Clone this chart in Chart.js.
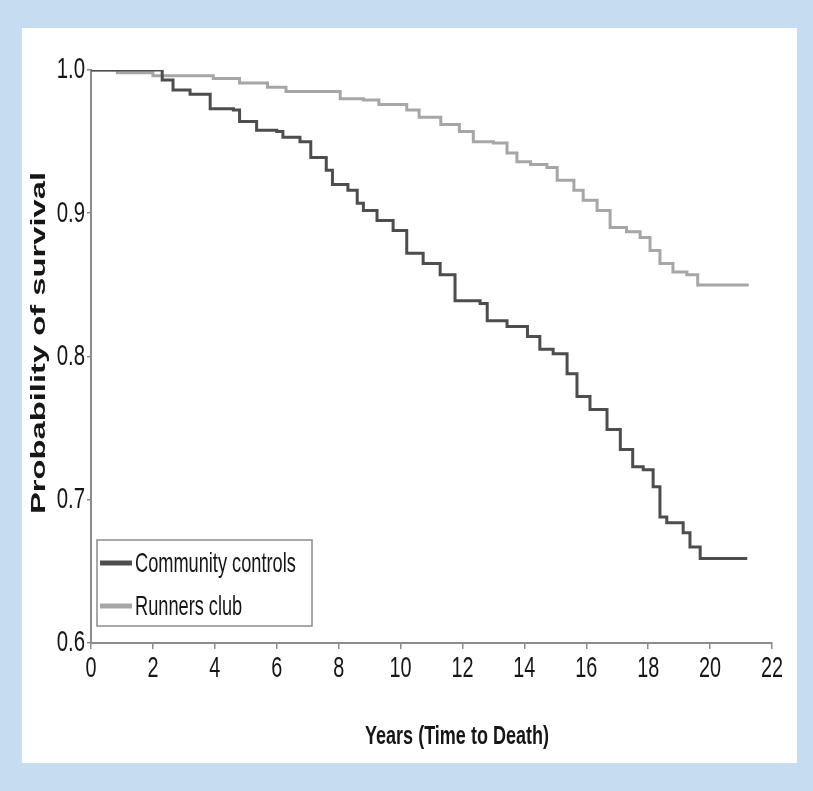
<!DOCTYPE html>
<html>
<head>
<meta charset="utf-8">
<script src="https://cdn.jsdelivr.net/npm/chart.js@4/dist/chart.umd.min.js"></script>
<style>
  body { margin: 0; background: #c6dcf1; width: 813px; height: 791px; overflow: hidden; }
  #panel { position: absolute; left: 22px; top: 28px; width: 775px; height: 735px; background: #fff; }
</style>
</head>
<body>
<div id="panel"><canvas id="myChart" width="775" height="735"></canvas></div>
<script>
// Kaplan-Meier curves
var controlYears = [0, 1.9, 2.3, 2.65, 3.2, 3.85, 4.6, 4.8, 5.35, 6.0, 6.2, 6.75, 7.1, 7.6, 7.8, 8.3, 8.6, 8.8, 9.24, 9.76, 10.2, 10.73, 11.28, 11.76, 12.57, 12.8, 13.44, 14.1, 14.5, 14.93, 15.38, 15.7, 16.12, 16.67, 17.1, 17.5, 17.84, 18.16, 18.38, 18.6, 19.13, 19.35, 19.68, 21.2];
var controlSurvival = [1.0, 1.0, 0.993, 0.986, 0.983, 0.973, 0.972, 0.964, 0.958, 0.957, 0.953, 0.95, 0.939, 0.93, 0.92, 0.916, 0.907, 0.902, 0.895, 0.888, 0.872, 0.865, 0.857, 0.839, 0.837, 0.825, 0.821, 0.814, 0.805, 0.802, 0.788, 0.772, 0.763, 0.749, 0.735, 0.723, 0.721, 0.709, 0.688, 0.684, 0.677, 0.667, 0.659, 0.659];

var runnerYears = [0, 0.85, 2.0, 3.95, 4.8, 5.7, 6.3, 7.8, 8.05, 8.8, 9.3, 10.2, 10.6, 11.3, 11.9, 12.35, 13.0, 13.44, 13.76, 14.2, 14.73, 15.06, 15.6, 15.9, 16.35, 16.77, 17.3, 17.74, 18.06, 18.38, 18.8, 19.25, 19.6, 21.25];
var runnerSurvival = [1.0, 0.998, 0.996, 0.994, 0.991, 0.988, 0.985, 0.985, 0.98, 0.979, 0.976, 0.972, 0.967, 0.962, 0.957, 0.95, 0.949, 0.942, 0.936, 0.934, 0.932, 0.923, 0.916, 0.909, 0.902, 0.89, 0.887, 0.883, 0.874, 0.865, 0.859, 0.857, 0.85, 0.85];

var seriesNames = ["Community controls", "Runners club"];
var xTitle = "Years (Time to Death)";
var yTitle = "Probability of survival";

function toPoints(xs, ys) {
  return xs.map(function (x, i) { return { x: x, y: ys[i] }; });
}

var sans = "'Liberation Sans', Arial, sans-serif";
var textColor = "#161616";

// the original uses a condensed face, so squeeze Liberation Sans sideways
function condensed(ctx, text, x, y, align, sx) {
  ctx.save();
  ctx.translate(x, y);
  ctx.scale(sx, 1);
  ctx.textAlign = align;
  ctx.fillText(text, 0, 0);
  ctx.restore();
}

// tick labels, legend box and axis titles drawn by hand
var extras = {
  id: "extras",
  afterDraw: function (chart) {
    var ctx = chart.ctx;
    var area = chart.chartArea;
    var xs = chart.scales.x, ys = chart.scales.y;
    ctx.save();
    ctx.fillStyle = textColor;
    ctx.textBaseline = "middle";

    // tick labels
    ctx.font = "30px " + sans;
    xs.ticks.forEach(function (t) {
      condensed(ctx, String(t.value), xs.getPixelForValue(t.value), area.bottom + 26, "center", 0.66);
    });
    ys.ticks.forEach(function (t) {
      condensed(ctx, t.value.toFixed(1), area.left - 6, ys.getPixelForValue(t.value), "right", 0.68);
    });

    // legend
    var bx = area.left + 6, by = area.bottom - 103;
    ctx.strokeStyle = "#8c8c8c";
    ctx.lineWidth = 1.5;
    ctx.strokeRect(bx, by, 215, 86);
    ctx.font = "28px " + sans;
    chart.data.datasets.forEach(function (ds, i) {
      var ly = by + 23 + i * 43;
      ctx.strokeStyle = ds.borderColor;
      ctx.lineWidth = 5;
      ctx.beginPath();
      ctx.moveTo(bx + 3, ly);
      ctx.lineTo(bx + 35, ly);
      ctx.stroke();
      condensed(ctx, ds.label, bx + 38, ly + 1, "left", 0.65);
    });

    // x title
    ctx.font = "bold 25px " + sans;
    var wx = ctx.measureText(xTitle).width;
    condensed(ctx, xTitle, 435, 709, "center", 184 / wx);

    // y title (wide, extended lettering)
    ctx.font = "bold 21px " + sans;
    var w = ctx.measureText(yTitle).width;
    ctx.translate(17, 315);
    ctx.rotate(-Math.PI / 2);
    ctx.scale(342 / w, 1);
    ctx.textAlign = "center";
    ctx.fillText(yTitle, 0, 0);
    ctx.restore();
  }
};

var ctx = document.getElementById("myChart");
var myChart = new Chart(ctx, {
  type: "line",
  data: {
    datasets: [
      {
        label: seriesNames[0],
        data: toPoints(controlYears, controlSurvival),
        borderColor: "#4d4d4d",
        borderWidth: 3,
        stepped: true,
        pointRadius: 0,
        fill: false,
      },
      {
        label: seriesNames[1],
        data: toPoints(runnerYears, runnerSurvival),
        borderColor: "#a6a6a6",
        borderWidth: 3,
        stepped: true,
        pointRadius: 0,
        fill: false,
      },
    ],
  },
  options: {
    responsive: false,
    animation: false,
    devicePixelRatio: 1,
    layout: { padding: { top: 42, right: 25, left: 0, bottom: 0 } },
    plugins: {
      legend: { display: false },
      tooltip: { enabled: false },
    },
    scales: {
      x: {
        type: "linear",
        min: 0,
        max: 22,
        ticks: {
          stepSize: 2,
          color: "rgba(0,0,0,0)",
          maxRotation: 0,
          font: { family: sans, size: 14 },
        },
        grid: { drawOnChartArea: false, drawTicks: true, tickLength: 6, color: "#8c8c8c", lineWidth: 1.5 },
        border: { display: true, color: "#8c8c8c", width: 2 },
        afterFit: function (s) { s.height = 120; },
      },
      y: {
        min: 0.6,
        max: 1.0,
        ticks: {
          stepSize: 0.1,
          color: "rgba(0,0,0,0)",
          font: { family: sans, size: 14 },
          callback: function (v) { return v.toFixed(1); },
        },
        grid: { drawOnChartArea: false, drawTicks: true, tickLength: 4, color: "#8c8c8c", lineWidth: 1.5 },
        border: { display: true, color: "#8c8c8c", width: 2 },
        afterFit: function (s) { s.width = 69; },
      },
    },
  },
  plugins: [extras],
});
</script>
</body>
</html>
